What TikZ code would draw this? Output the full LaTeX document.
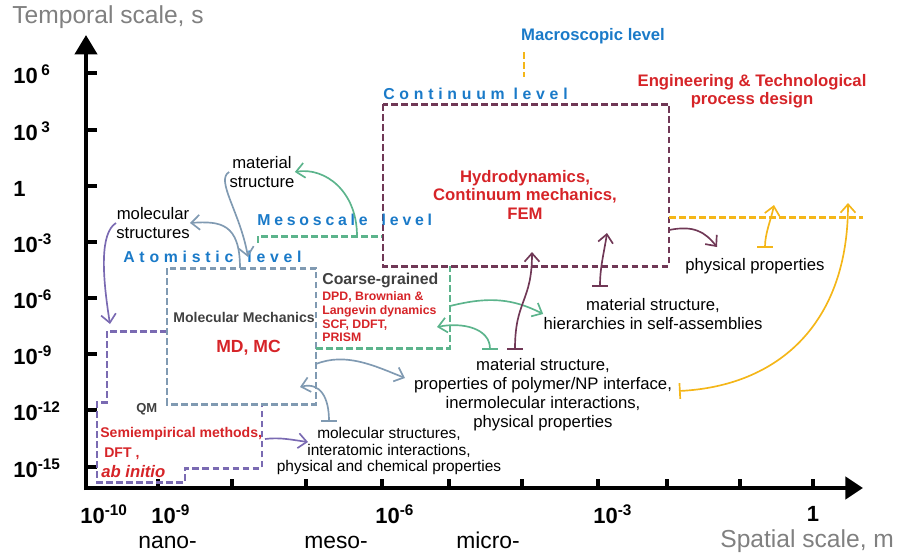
\documentclass[tikz,border=0pt]{standalone}
\usepackage{fontspec}
\setmainfont{Liberation Sans}
\newfontfamily\levelfont[LetterSpace=30]{Liberation Sans}
\usepackage{xcolor}
\usepackage{tikz}
\usetikzlibrary{arrows.meta}

\definecolor{qmpurple}{RGB}{122,106,178}
\definecolor{mmgray}{RGB}{128,154,178}
\definecolor{cggreen}{RGB}{92,180,140}
\definecolor{contmaroon}{RGB}{112,56,86}
\definecolor{macroyellow}{RGB}{244,182,24}
\definecolor{methodred}{RGB}{214,36,40}
\definecolor{levelblue}{RGB}{26,122,200}
\definecolor{axisgray}{RGB}{128,128,128}
\definecolor{labelgray}{RGB}{64,64,64}

\begin{document}
\begin{tikzpicture}[x=0.02cm,y=-0.02cm,
    levelbox/.style={line width=1.7pt,dash pattern=on 3.8pt off 1.9pt},
    link/.style={line width=0.95pt,-{Straight Barb[length=4.8pt,width=8.5pt]}},
    barlink/.style={line width=0.95pt,{Bar[width=9pt]}-{Straight Barb[length=4.8pt,width=8.5pt]}},
    note/.style={align=center,inner sep=0pt,font=\fontsize{9.5}{10.8}\selectfont},
    method/.style={align=center,inner sep=0pt,text=methodred,font=\bfseries\fontsize{9.5}{10.5}\selectfont},
    level/.style={anchor=base west,inner sep=0pt,text=levelblue,font=\levelfont\bfseries\fontsize{9}{10}\selectfont},
    scalelabel/.style={inner sep=0pt,font=\bfseries\fontsize{12.5}{13}\selectfont},
    scaleword/.style={anchor=base west,inner sep=0pt,font=\fontsize{13}{15}\selectfont},
    axistitle/.style={anchor=base west,inner sep=0pt,text=axisgray,font=\fontsize{14}{16}\selectfont}]

    % Fix the frame of the picture
    \useasboundingbox (0,0) rectangle (900,556);

    % Draw the axes
    \draw[line width=2.3pt,-{Triangle[length=11pt,width=12.5pt]}] (86,490) -- (86,35);
    \draw[line width=2.3pt,-{Triangle[length=10pt,width=12.5pt]}] (84,488) -- (863,488);

    % Ticks and labels on the temporal axis
    \foreach \ty/\tlab in {73/10\,\textsuperscript{6}, 130/10\,\textsuperscript{3}, 186/1, 242/10\textsuperscript{-3}, 298/10\textsuperscript{-6}, 354/10\textsuperscript{-9}, 410/10\textsuperscript{-12}, 467/10\textsuperscript{-15}} {
        \draw[line width=2pt] (86,\ty) -- (97,\ty);
        \node[scalelabel,anchor=base west] (t\ty) at (13,\ty+10) {\tlab};
    }

    % Ticks and labels on the spatial axis
    \foreach \tx in {158,232,306,382,449,522,598,667,740,813}
        \draw[line width=1.8pt] (\tx,488) -- (\tx,479);
    \node[scalelabel,anchor=base west] (s10) at (80,523) {10\textsuperscript{-10}};
    \node[scalelabel,anchor=base west] (s9) at (151,523) {10\textsuperscript{-9}};
    \node[scalelabel,anchor=base west] (s6) at (375,523) {10\textsuperscript{-6}};
    \node[scalelabel,anchor=base west] (s3) at (593,523) {10\textsuperscript{-3}};
    \node[scalelabel,anchor=base] (s0) at (813,521) {1};
    \node[scaleword] (nano) at (138,548) {nano-};
    \node[scaleword] (meso) at (304,548) {meso-};
    \node[scaleword] (micro) at (456,548) {micro-};

    % Axis titles
    \node[axistitle] (spatial) at (720,547) {Spatial scale, m};
    \node[axistitle] (temporal) at (12,23) {Temporal scale, s};

    % Draw the level outlines
    \draw[levelbox,qmpurple] (167,331) -- (107,331) -- (107,402) -- (97,402) -- (97,482) -- (185,482) -- (185,468) -- (262,468) -- (262,404);
    \draw[levelbox,mmgray] (167,268) rectangle (316,404);
    \draw[levelbox,cggreen] (316,348) -- (450,348) -- (450,266);
    \draw[levelbox,cggreen] (258,243) -- (258,236) -- (383,236);
    \draw[levelbox,contmaroon] (383,104) rectangle (669,266);
    \draw[levelbox,macroyellow] (524,52) -- (524,77);
    \draw[levelbox,macroyellow] (669,217) -- (863,217);

    % Level names
    \node[level] (contlevel) at (383,99) {Continuum\hspace{5pt}level};
    \node[level] (mesolevel) at (257,225) {\addfontfeature{LetterSpace=24}Mesoscale\hspace{8pt}level};
    \node[level] (atomlevel) at (123,262) {Atomistic\hspace{8pt}level};
    \node[anchor=base,inner sep=0pt,text=levelblue,font=\bfseries\fontsize{9.5}{10.5}\selectfont] (macrolevel) at (593,40) {Macroscopic level};

    % Methods inside the levels
    \node[method,anchor=north] (engdesign) at (752,74) {Engineering \& Technological\\process design};
    \node[method,anchor=north] (hydro) at (525,170) {Hydrodynamics,\\Continuum mechanics,\\FEM};
    \node[anchor=base west,inner sep=0pt,text=labelgray,font=\bfseries\fontsize{9}{10}\selectfont] (cgname) at (322,284) {Coarse-grained};
    \node[method,anchor=north west,align=left,font=\bfseries\fontsize{7}{7.9}\selectfont] (cgmethods) at (322,291) {DPD, Brownian \&\\Langevin dynamics\\SCF, DDFT,\\PRISM};
    \node[anchor=base west,inner sep=0pt,text=labelgray,font=\bfseries\fontsize{8}{9}\selectfont] (mmname) at (173,322) {Molecular Mechanics};
    \node[method,anchor=base west,font=\bfseries\fontsize{10}{11}\selectfont] (mdmc) at (216,352) {MD, MC};
    \node[anchor=base west,inner sep=0pt,text=labelgray,font=\bfseries\fontsize{7.4}{8}\selectfont] (qmname) at (136,412) {QM};
    \node[method,anchor=base west,font=\bfseries\fontsize{8}{9}\selectfont] (semi) at (100,437) {Semiempirical methods,};
    \node[method,anchor=base west,font=\bfseries\fontsize{8}{9}\selectfont] (dft) at (104,457) {DFT ,};
    \node[method,anchor=base west,font=\bfseries\itshape\fontsize{9.5}{10.5}\selectfont] (abinitio) at (101,477) {ab initio};

    % Information passed between the levels
    \node[note,anchor=north] (matstr) at (262,156) {material\\structure};
    \node[note,anchor=north] (molstr) at (153,207) {molecular\\structures};
    \node[note,anchor=north] (selfasm) at (653,298) {material structure,\\hierarchies in self-assemblies};
    \node[note,anchor=base] (physprop) at (755,270) {physical properties};
    \node[note,anchor=north] (interface) at (543,358) {material structure,\\properties of polymer/NP interface,\\inermolecular interactions,\\physical properties};
    \node[note,anchor=north,font=\fontsize{8.8}{9.5}\selectfont] (interatom) at (389,427) {molecular structures,\\interatomic interactions,\\physical and chemical properties};

    % Ends of the connectors
    \coordinate (qmtop) at (110,324);
    \coordinate (mmtop) at (240,268);
    \coordinate (atomin) at (248,257);
    \coordinate (mesoout) at (357,236);
    \coordinate (cgright) at (450,306);
    \coordinate (cgin) at (437,327);
    \coordinate (cgbar) at (490,350);
    \coordinate (contbar) at (515,350);
    \coordinate (contin) at (532,252);
    \coordinate (selfbar) at (600,287);
    \coordinate (contin2) at (607,233);
    \coordinate (contright) at (669,230);
    \coordinate (physin) at (717,247);
    \coordinate (physbar) at (765,248);
    \coordinate (macroin) at (774,205);
    \coordinate (interbar) at (679,391);
    \coordinate (macroin2) at (848,203);
    \coordinate (mmright) at (316,364);
    \coordinate (interin) at (405,378);
    \coordinate (atombar) at (329,422);
    \coordinate (mmin) at (300,387);
    \coordinate (qmright) at (265,439);
    \coordinate (atomtext) at (308,442);

    % Draw the connectors
    \draw[link,qmpurple] (molstr.west) .. controls +(-16,10) and +(-8,-50) .. (qmtop);
    \draw[link,mmgray] (matstr.west) .. controls +(-14,8) and +(-8,-45) .. (atomin);
    \draw[link,mmgray] (mmtop) .. controls +(0,-45) and +(30,-2) .. (molstr.east);
    \draw[link,cggreen] (mesoout) .. controls +(0,-45) and +(30,-5) .. (matstr.east);
    \draw[link,cggreen] (cgright) .. controls +(40,-10) and +(-30,-15) .. (selfasm.west);
    \draw[barlink,cggreen] (cgbar) .. controls +(0,-22) and +(25,-5) .. (cgin);
    \draw[barlink,contmaroon] (contbar) .. controls +(0,-50) and +(0,50) .. (contin);
    \draw[barlink,contmaroon] (selfbar) .. controls +(0,-20) and +(-3,20) .. (contin2);
    \draw[link,contmaroon] (contright) .. controls +(25,-5) and +(-12,-15) .. (physin);
    \draw[barlink,macroyellow] (physbar) .. controls +(0,-15) and +(-3,15) .. (macroin);
    \draw[barlink,macroyellow] (interbar) .. controls +(100,-5) and +(0,120) .. (macroin2);
    \draw[link,mmgray] (mmright) .. controls +(30,-12) and +(-30,-12) .. (interin);
    \draw[barlink,mmgray] (atombar) .. controls +(0,-25) and +(20,-5) .. (mmin);
    \draw[link,qmpurple] (qmright) .. controls +(15,-2) and +(-15,-2) .. (atomtext);

\end{tikzpicture}
\end{document}
